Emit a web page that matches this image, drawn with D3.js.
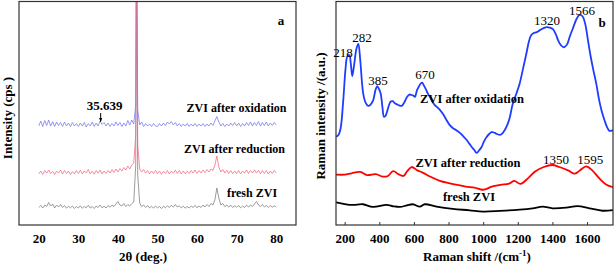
<!DOCTYPE html>
<html><head><meta charset="utf-8">
<script src="https://cdn.jsdelivr.net/npm/d3@7"></script>
<style>
html,body{margin:0;padding:0;background:#fff;}
svg{display:block;}
text{font-family:"Liberation Serif","Times New Roman",serif;}
</style></head>
<body>
<svg id="chart" width="616" height="265"></svg>
<script>
// ---------- Panel a : XRD ----------
const twoThetaGrid = d3.range(20, 80.001, 0.5);
const peakTheta = 44.7;
const xrdTicks = [20, 30, 40, 50, 60, 70, 80];

const xrdFresh = [
  175,195,170,200,185,225,190,210,170,200,
  180,205,175,195,168,188,172,190,165,185,
  170,192,168,186,172,198,170,185,165,190,
  175,200,172,188,170,195,178,200,185,210,
  235,200,190,215,185,205,190,215,230,600,
  3000,500,220,185,200,175,195,170,188,168,190,
  172,185,165,188,172,192,175,198,178,205,
  180,192,170,188,168,185,170,190,175,195,
  172,190,175,200,180,205,185,215,200,250,
  370,270,200,215,185,200,178,198,175,192,
  178,195,172,190,175,198,180,200,185,210,
  235,200,185,205,180,195,175,195,178,192,
  180];
const xrdReduction = [
  510,540,505,545,520,550,515,535,505,540,
  520,550,510,545,515,540,505,535,510,545,
  515,548,510,540,520,555,512,538,508,545,
  518,550,512,540,515,545,520,555,525,560,
  530,565,540,575,550,590,560,600,620,900,
  3000,800,560,530,555,520,545,512,540,515,545,
  512,540,508,538,515,545,510,540,518,548,
  515,545,510,540,512,538,515,545,520,550,
  515,545,520,550,525,555,530,560,545,600,
  690,580,530,555,520,548,515,545,512,540,
  515,545,510,540,518,550,515,545,520,552,
  518,548,512,545,515,545,510,540,515,545,
  520];
const xrdOxidation = [
  990,1040,985,1045,995,1050,990,1035,985,1030,
  995,1025,985,1030,990,1020,985,1025,990,1015,
  985,1020,990,1025,980,1015,990,1030,985,1020,
  990,1040,1005,1025,990,1020,985,1015,990,1030,
  995,1025,985,1020,990,1045,1000,1050,1010,1200,
  3000,1150,1000,1030,985,1015,990,1010,985,1015,990,
  985,1015,990,1020,995,1030,1010,1035,1000,1025,
  990,1015,985,1010,990,1015,985,1010,990,1015,
  985,1010,990,1015,985,1010,990,1020,995,1040,
  1085,1030,990,1015,985,1010,990,1020,995,1025,
  990,1020,985,1015,990,1025,995,1030,990,1025,
  995,1035,990,1025,995,1030,990,1020,995,1025,
  1000];

// ---------- Panel b : Raman ----------
const ramanTicks = [200, 400, 600, 800, 1000, 1200, 1400, 1600];
const ramanOxShift = [150,165,177,192,205,215,227,236,244,255,268,279,290,300,307,320,336,350,365,378,388,398,408,418,427,435,442,455,465,478,490,510,529,545,561,575,587,597,606,618,630,640,648,658,669,680,692,705,721,735,750,770,788,805,826,845,866,885,905,920,934,950,963,977,991,1005,1020,1035,1049,1060,1068,1080,1097,1110,1125,1140,1153,1170,1190,1211,1230,1250,1265,1278,1290,1310,1330,1365,1385,1403,1420,1432,1450,1467,1485,1500,1520,1540,1557,1575,1590,1605,1620,1635,1653,1670,1685,1701,1715,1730,1750];
const ramanOxInt = [39.6,40.5,43.5,56,70,75.5,76.2,72,66.8,72,79,81.2,74,64,59,55,53.4,54,56,60.5,62.3,61,59,53,48.6,48.8,50.1,53.5,55.3,55.5,54.6,53.8,53.4,55,57.5,58.5,58.3,58,57.5,60.5,62.3,63.5,63.8,62.5,60.9,59,57.5,55.5,53.8,52.8,51.6,49.5,47.1,45,43.4,42.5,41.3,39.8,38.1,36.5,35,33.5,32.3,33.5,35,37.5,39.5,40.8,41.7,41.5,41.3,40.8,40.4,41,42.6,45,48,54,58.5,63.5,70,77,82.5,85.2,86,86.5,87.5,88.7,88.5,87.8,85.5,83,80.5,79.7,81,84.4,88.5,92.5,94.2,93.5,90,83,76,70,63.5,56,51,47,44,42.2,42.6];
const ramanRedShift = [150,200,240,290,330,380,420,450,480,510,540,560,587,620,650,700,750,800,850,900,950,1000,1050,1100,1150,1180,1215,1260,1300,1350,1400,1440,1490,1530,1560,1595,1630,1670,1710,1750];
const ramanRedInt = [22.6,22.6,23.2,23.8,22.4,22.8,21.7,22.0,24.2,22.8,22.0,24.0,26.0,24.5,23.5,21.5,19.8,18.8,18.0,17.2,16.8,15.8,17.2,18.0,18.6,19.8,18.4,21.0,24.0,26.0,26.9,26.0,24.5,23.0,24.6,26.3,24.5,21.0,18.2,17.0];
const ramanFreshShift = [150,200,248,306,363,442,480,519,560,594,634,663,731,825,922,998,1096,1211,1286,1344,1401,1480,1545,1614,1689,1750];
const ramanFreshInt = [10.2,9.4,9.0,9.3,8.1,9.0,8.4,8.1,8.8,9.3,8.2,9.3,8.2,7.2,6.6,6.0,6.3,6.9,7.5,8.2,7.5,7.8,8.5,7.5,6.4,6.7];

const ramanPeakLabels = [
  {t:"218", x:190, y:75.3}, {t:"282", x:300, y:82.1}, {t:"385", x:393, y:62.8},
  {t:"670", x:664, y:65.5}, {t:"1320", x:1369, y:89.7}, {t:"1566", x:1571, y:94.2},
  {t:"1350", x:1421, y:27.4}, {t:"1595", x:1618, y:27.4}
];

// ---------- drawing ----------
const svg = d3.select("#chart");
const theta = twoThetaGrid.slice();
theta.splice(theta.findIndex(v => v > peakTheta), 0, peakTheta);

const xA = d3.scaleLinear().domain([15, 85]).range([19, 296]);
const yA = d3.scaleLinear().domain([0, 2230]).range([225, 2]);
const xB = d3.scaleLinear().domain([150, 1750]).range([336, 613]);
const yB = d3.scaleLinear().domain([0, 100]).range([225, 2]);

const defs = svg.append("defs");
defs.append("clipPath").attr("id","clipA").append("rect")
  .attr("x",19).attr("y",2).attr("width",277).attr("height",223);
defs.append("clipPath").attr("id","clipB").append("rect")
  .attr("x",336).attr("y",2).attr("width",277).attr("height",223);
defs.append("marker").attr("id","arr").attr("viewBox","0 0 10 10")
  .attr("refX",9).attr("refY",5).attr("markerWidth",4).attr("markerHeight",5)
  .attr("orient","auto").append("path").attr("d","M0,1L10,5L0,9z").attr("fill","#000");

// Panel a lines
const lineA = d3.line().x((d,i)=>xA(theta[i])).y(d=>yA(d));
const gA = svg.append("g").attr("clip-path","url(#clipA)");
[[xrdFresh,"#7d7d7d"],[xrdOxidation,"#7878f0"],[xrdReduction,"#f06a86"]].forEach(([s,c])=>{
  gA.append("path").datum(s.slice(0, theta.length)).attr("d",lineA)
    .attr("fill","none").attr("stroke",c).attr("stroke-width",0.9).attr("opacity",0.85);
});

// Panel b lines
const lineB = d3.line().curve(d3.curveCatmullRom.alpha(0.5)).x(d=>xB(d[0])).y(d=>yB(d[1]));
const gB = svg.append("g").attr("clip-path","url(#clipB)");
[[ramanFreshShift,ramanFreshInt,"#000000"],[ramanRedShift,ramanRedInt,"#ff0000"],[ramanOxShift,ramanOxInt,"#1f3cff"]].forEach(([xs,ys,c])=>{
  gB.append("path").datum(xs.map((x,i)=>[x,ys[i]])).attr("d",lineB)
    .attr("fill","none").attr("stroke",c).attr("stroke-width",1.8);
});

// frames
svg.append("rect").attr("x",19).attr("y",1.5).attr("width",277).attr("height",223.5)
  .attr("fill","none").attr("stroke","#333").attr("stroke-width",1.2);
svg.append("rect").attr("x",336).attr("y",1.5).attr("width",277).attr("height",223.5)
  .attr("fill","none").attr("stroke","#333").attr("stroke-width",1.2);

// axes
const axA = svg.append("g").attr("transform","translate(0,225)")
  .call(d3.axisBottom(xA).tickValues(xrdTicks).tickFormat(d3.format("d")).tickSize(0).tickPadding(9));
const axB = svg.append("g").attr("transform","translate(0,225)")
  .call(d3.axisBottom(xB).tickValues(ramanTicks).tickFormat(d3.format("d")).tickSizeInner(-3).tickSizeOuter(0).tickPadding(9));
[axA, axB].forEach(ax=>{
  ax.select(".domain").remove();
  ax.selectAll("text").attr("font-family","Liberation Serif").attr("font-size",13)
    .attr("font-weight","bold").attr("fill","#000");
  ax.selectAll("line").attr("stroke","#333");
});

function txt(x,y,s,opt={}){
  return svg.append("text").attr("x",x).attr("y",y).text(s)
    .attr("font-size",opt.size||13).attr("font-weight",opt.bold===false?"normal":"bold")
    .attr("text-anchor",opt.anchor||"middle").attr("fill","#000");
}

// Panel a text
txt(143, 261, "2θ  (deg.)");
txt(0,0,"Intensity (cps )").attr("transform","translate(12,118) rotate(-90)");
txt(281, 25, "a");
txt(236.5, 112, "ZVI after oxidation", {size:12});
txt(234.5, 153, "ZVI after reduction", {size:12});
txt(252, 197, "fresh ZVI", {size:12});
txt(104.5, 110, "35.639");
svg.append("line").attr("x1",xA(35.639)).attr("x2",xA(35.639)).attr("y1",113).attr("y2",121.5)
  .attr("stroke","#000").attr("stroke-width",1).attr("marker-end","url(#arr)");

// Panel b text
const xt = txt(477, 261, "Raman shift /(cm");
xt.append("tspan").attr("dy",-5).attr("font-size",9).text("-1");
xt.append("tspan").attr("dy",5).text(")");
txt(0,0,"Raman intensity /(a.u.)").attr("transform","translate(325,116) rotate(-90)");
txt(602, 27, "b");
txt(472, 103, "ZVI after oxidation", {size:12.5});
txt(468, 167, "ZVI after reduction", {size:12.5});
txt(469, 201, "fresh ZVI", {size:12.5});
ramanPeakLabels.forEach(p=>{
  txt(xB(p.x), yB(p.y), p.t, {bold:false, size:13});
});
</script>
</body></html>
